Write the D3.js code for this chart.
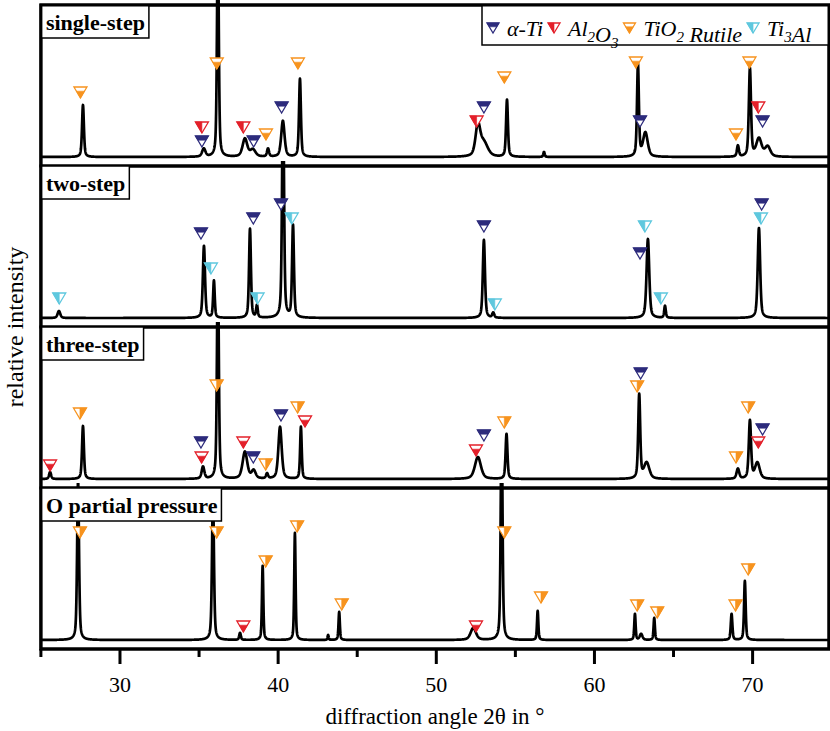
<!DOCTYPE html>
<html>
<head>
<meta charset="utf-8">
<script src="https://cdn.jsdelivr.net/npm/d3@7"></script>
<style>
  body { margin: 0; background: #fff; }
  svg { display: block; font-family: "Liberation Serif", "Times New Roman", serif; }
</style>
</head>
<body>
<svg id="chart" width="830" height="731"></svg>
<script>
// ---- data -------------------------------------------------------------
const panelNames = ["single-step", "two-step", "three-step", "O partial pressure"];

// phases; "_" marks the next character as a subscript
const phaseNames = ["α-Ti", "Al_2O_3", "TiO_2 Rutile", "Ti_3Al"];
const legendFill = ["top", "left", "bottom", "left"];

const xTicksMajor = [30, 40, 50, 60, 70];
const xTicksMinor = [25, 35, 45, 55, 65];

// reflections: [2θ position, intensity, FWHM in °]
const singleStepPeaks = [
  [27.66, 52, 0.14], [35.30, 8, 0.25], [36.19, 230, 0.13], [37.90, 18, 0.35],
  [38.40, 7, 0.40], [39.36, 8, 0.15], [40.30, 36, 0.25], [41.38, 78, 0.14],
  [52.63, 30, 0.35], [53.00, 14, 0.60], [54.47, 57, 0.14], [56.81, 5, 0.10],
  [62.75, 92, 0.14], [63.22, 24, 0.35], [69.07, 11, 0.15], [69.83, 88, 0.16],
  [70.40, 18, 0.40], [70.95, 10, 0.40]
];
const twoStepPeaks = [
  [26.14, 7, 0.20], [35.31, 72, 0.16], [35.94, 37, 0.12], [38.22, 89, 0.14],
  [38.66, 12, 0.12], [40.31, 240, 0.14], [40.94, 92, 0.14], [53.01, 78, 0.16],
  [53.60, 5, 0.15], [63.38, 79, 0.20], [64.46, 12, 0.12], [70.40, 90, 0.18]
];
const threeStepPeaks = [
  [25.58, 7, 0.15], [27.66, 53, 0.14], [35.25, 12, 0.20], [36.19, 230, 0.13],
  [37.90, 27, 0.35], [38.45, 8, 0.30], [39.30, 5, 0.15], [40.12, 52, 0.25],
  [41.44, 52, 0.12], [52.63, 22, 0.45], [54.44, 45, 0.14], [62.83, 84, 0.15],
  [63.30, 16, 0.40], [69.07, 10, 0.20], [69.83, 58, 0.17], [70.30, 16, 0.35]
];
const oPartialPeaks = [
  [27.35, 160, 0.14], [35.88, 150, 0.14], [37.59, 7, 0.12], [39.02, 74, 0.10],
  [41.06, 107, 0.10], [43.16, 5, 0.08], [43.86, 28, 0.10], [52.34, 12, 0.40],
  [54.13, 230, 0.13], [56.41, 29, 0.10], [62.56, 26, 0.10], [62.95, 6, 0.20],
  [63.78, 22, 0.10], [68.67, 26, 0.12], [69.51, 59, 0.12]
];

// phase markers: [phase index, 2θ, level, filled part]
const singleStepMarkers = [
  [2, 27.50, 70, "bottom"], [1, 35.18, 35, "left"], [0, 35.18, 21, "top"],
  [2, 36.12, 99, "bottom"], [1, 37.80, 35, "left"], [0, 38.45, 21, "top"],
  [2, 39.23, 28, "bottom"], [0, 40.22, 55, "top"], [2, 41.25, 99, "bottom"],
  [1, 52.55, 41, "left"], [0, 53.01, 55, "top"], [2, 54.30, 85, "bottom"],
  [2, 62.62, 100, "bottom"], [0, 62.88, 41, "top"], [2, 68.95, 28, "bottom"],
  [2, 69.80, 100, "bottom"], [1, 70.36, 55, "left"], [0, 70.63, 41, "top"]
];
const twoStepMarkers = [
  [3, 26.16, 25, "left"], [0, 35.12, 90, "top"], [3, 35.75, 55, "left"],
  [0, 38.43, 105, "top"], [3, 38.70, 25, "left"], [0, 40.18, 119, "top"],
  [3, 40.86, 105, "left"], [0, 53.01, 97, "top"], [3, 53.70, 19, "left"],
  [3, 63.19, 97, "left"], [0, 62.88, 70, "top"], [3, 64.20, 25, "left"],
  [0, 70.57, 119, "top"], [3, 70.53, 105, "left"]
];
const threeStepMarkers = [
  [1, 25.58, 19, "bottom"], [2, 27.47, 71, "right"], [0, 35.12, 42, "top"],
  [1, 35.16, 27, "bottom"], [2, 36.11, 99, "right"], [1, 37.80, 42, "bottom"],
  [0, 38.43, 27, "top"], [2, 39.21, 20, "right"], [0, 40.18, 69, "top"],
  [2, 41.23, 77, "right"], [1, 41.70, 63, "bottom"], [1, 52.51, 34, "bottom"],
  [0, 53.01, 49, "top"], [2, 54.30, 62, "right"], [0, 62.92, 111, "top"],
  [2, 62.70, 98, "right"], [2, 68.95, 27, "right"], [2, 69.72, 77, "right"],
  [0, 70.63, 55, "top"], [1, 70.36, 42, "bottom"]
];
const oPartialMarkers = [
  [2, 27.47, 113, "right"], [2, 36.11, 113, "right"], [1, 37.80, 19, "bottom"],
  [2, 39.21, 84, "right"], [2, 41.20, 119, "right"], [2, 44.02, 41, "right"],
  [1, 52.51, 19, "bottom"], [2, 54.30, 113, "right"], [2, 56.62, 48, "right"],
  [2, 62.70, 40, "right"], [2, 63.97, 33, "right"], [2, 68.92, 40, "right"],
  [2, 69.72, 76, "right"]
];

const panelPeaks = [singleStepPeaks, twoStepPeaks, threeStepPeaks, oPartialPeaks];
const panelMarkers = [singleStepMarkers, twoStepMarkers, threeStepMarkers, oPartialMarkers];

// ---- layout & style -----------------------------------------------------
const phaseColors = ["#2d2b7c", "#e3202a", "#f7931e", "#5ec8de"];
const plotLeft = 40.9, plotRight = 829;
const firstTop = 5, panelH = 161;
const xDomain = [25, 74.83];
const step = 0.01;

const svg = d3.select("#chart");
const x = d3.scaleLinear().domain(xDomain).range([plotLeft, plotRight]);

// pseudo-Voigt reflection profile
function profile(t, peaks) {
  let s = 0;
  for (const [c, h, fw] of peaks) {
    const u = (t - c) / fw;
    s += h * (0.5 / (1 + 4 * u * u) + 0.5 * Math.exp(-4 * Math.LN2 * u * u));
  }
  return s;
}

const grid = d3.range(xDomain[0], xDomain[1] + step / 2, step);
const mW = 13, mH = 11, band = 0.38;

function markerShapes(cx, y0, type, w, h) {
  const tri = [[cx - w / 2, y0], [cx + w / 2, y0], [cx, y0 + h]];
  let part;
  if (type === "top") {
    part = [[cx - w / 2, y0], [cx + w / 2, y0],
            [cx + w / 2 * (1 - band), y0 + band * h], [cx - w / 2 * (1 - band), y0 + band * h]];
  } else if (type === "bottom") {
    part = [[cx - w / 2 * (1 - band), y0 + band * h], [cx + w / 2 * (1 - band), y0 + band * h], [cx, y0 + h]];
  } else if (type === "left") {
    part = [[cx - w / 2, y0], [cx, y0], [cx, y0 + h]];
  } else {
    part = [[cx, y0], [cx + w / 2, y0], [cx, y0 + h]];
  }
  return { tri, part };
}

function drawMarker(g, cx, y0, phase, type, w, h) {
  const { tri, part } = markerShapes(cx, y0, type, w, h);
  g.append("polygon").attr("points", tri.map(p => p.join(",")).join(" "))
    .attr("fill", "#fff").attr("stroke", phaseColors[phase]).attr("stroke-width", 1.3)
    .attr("stroke-linejoin", "miter");
  g.append("polygon").attr("points", part.map(p => p.join(",")).join(" "))
    .attr("fill", phaseColors[phase]).attr("stroke", phaseColors[phase]).attr("stroke-width", 0.6);
}

const defs = svg.append("defs");

panelNames.forEach((name, i) => {
  const top = firstTop + i * panelH;
  const bottom = top + panelH;
  const y = d3.scaleLinear().domain([-9, panelH - 9]).range([bottom, top]);
  const g = svg.append("g").attr("class", "panel");

  defs.append("clipPath").attr("id", "clip" + i)
    .append("rect").attr("x", plotLeft).attr("y", top - 5)
    .attr("width", plotRight - plotLeft).attr("height", panelH + 5);

  const pts = grid.map(t => [t, profile(t, panelPeaks[i])]);
  const line = d3.line().x(d => x(d[0])).y(d => y(d[1]));
  g.append("path").datum(pts)
    .attr("clip-path", `url(#clip${i})`)
    .attr("d", line).attr("fill", "none").attr("stroke", "#000")
    .attr("stroke-width", 2.7).attr("stroke-linejoin", "round");

  const mg = g.append("g").attr("class", "markers");
  panelMarkers[i].forEach(([ph, ang, lvl, type]) => {
    drawMarker(mg, x(ang), y(lvl), ph, type, mW, mH);
  });

  // frame
  g.append("rect").attr("x", plotLeft).attr("y", top)
    .attr("width", plotRight - plotLeft).attr("height", panelH)
    .attr("fill", "none").attr("stroke", "#000").attr("stroke-width", 3);

  // sample label box
  const lab = g.append("g");
  const txt = lab.append("text").attr("x", plotLeft + 5).attr("y", top + 25)
    .attr("font-size", 22).attr("font-weight", "bold").text(name);
  const tw = txt.node().getComputedTextLength();
  lab.insert("rect", "text").attr("x", plotLeft).attr("y", top)
    .attr("width", tw + 9).attr("height", 33)
    .attr("fill", "#fff").attr("stroke", "#000").attr("stroke-width", 1.5);
});

// bottom axis
const axisY = firstTop + 4 * panelH;
const axG = svg.append("g");
xTicksMajor.forEach(t => {
  axG.append("line").attr("x1", x(t)).attr("x2", x(t)).attr("y1", axisY).attr("y2", axisY + 15)
    .attr("stroke", "#000").attr("stroke-width", 3);
  axG.append("text").attr("x", x(t)).attr("y", axisY + 43).attr("text-anchor", "middle")
    .attr("font-size", 22).text(t);
});
xTicksMinor.forEach(t => {
  axG.append("line").attr("x1", x(t)).attr("x2", x(t)).attr("y1", axisY).attr("y2", axisY + 8)
    .attr("stroke", "#000").attr("stroke-width", 3);
});

svg.append("text").attr("x", (plotLeft + plotRight) / 2).attr("y", 724)
  .attr("text-anchor", "middle").attr("font-size", 23).text("diffraction angle 2θ in °");
svg.append("text").attr("transform", `translate(23,${(firstTop + axisY) / 2}) rotate(-90)`)
  .attr("text-anchor", "middle").attr("font-size", 24).text("relative intensity");

// legend
const leg = svg.append("g");
leg.append("rect").attr("x", 482).attr("y", firstTop)
  .attr("width", plotRight - 482).attr("height", 40)
  .attr("fill", "#fff").attr("stroke", "#000").attr("stroke-width", 1.5);
let lx = 487;
phaseNames.forEach((nm, i) => {
  drawMarker(leg, lx + 6, 23, i, legendFill[i], 12, 10);
  lx += 20;
  const t = leg.append("text").attr("x", lx).attr("y", 36)
    .attr("font-size", 22).attr("font-style", "italic");
  const parts = nm.split(/(_.)/).filter(s => s.length);
  parts.forEach(p => {
    if (p[0] === "_") {
      t.append("tspan").attr("font-size", 15).attr("dy", 6).text(p[1]);
      t.append("tspan").attr("dy", -6).text("");
    } else {
      t.append("tspan").text(p);
    }
  });
  lx += t.node().getComputedTextLength() + 5;
});
// redraw frame on top
svg.append("rect").attr("x", plotLeft).attr("y", firstTop)
  .attr("width", plotRight - plotLeft).attr("height", 4 * panelH)
  .attr("fill", "none").attr("stroke", "#000").attr("stroke-width", 3);
</script>
</body>
</html>
